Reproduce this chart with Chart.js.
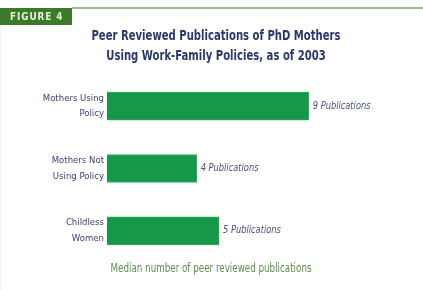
<!DOCTYPE html>
<html>
<head>
<meta charset="utf-8">
<script src="https://cdn.jsdelivr.net/npm/chart.js@4"></script>
<style>
  html, body { margin: 0; padding: 0; background: #fff; }
  #wrap { width: 423px; height: 290px; position: relative; }
</style>
</head>
<body>
<div id="wrap"><canvas id="myChart"></canvas></div>
<script>
const categories = [['Mothers Using', 'Policy'], ['Mothers Not', 'Using Policy'], ['Childless', 'Women']];
const publications = [9, 4, 5];
const valueLabels = ['9 Publications', '4 Publications', '5 Publications'];
const titleLines = ['Peer Reviewed Publications of PhD Mothers', 'Using Work-Family Policies, as of 2003'];
const footerText = 'Median number of peer reviewed publications';

const narrow = "'Liberation Sans Narrow', 'DejaVu Sans Condensed', 'Roboto', sans-serif";

// the original uses a condensed face, so squeeze text horizontally
function squeezed(c, text, x, y, sx) {
    c.save();
    c.translate(x, y);
    c.scale(sx, 1);
    c.fillText(text, 0, 0);
    c.restore();
}

// header line, figure badge, title, footer and value labels
const decor = {
    id: 'decor',
    beforeDraw(chart) {
        const c = chart.ctx;
        c.save();
        c.fillStyle = '#9dbb94';
        c.fillRect(72, 7, chart.width - 72, 2);
        c.fillStyle = '#eef4ea';
        c.fillRect(0, 9, 1, chart.height - 9);
        c.fillStyle = '#3b7a2a';
        c.fillRect(0, 8, 72, 17);
        c.fillStyle = '#e4efd6';
        c.font = 'bold 11px ' + narrow;
        c.textBaseline = 'middle';
        c.letterSpacing = '1px';
        squeezed(c, 'FIGURE 4', 10, 17, 0.9);
        c.letterSpacing = '0px';

        c.textAlign = 'center';
        c.fillStyle = '#2a386b';
        c.font = 'bold 14px ' + narrow;
        squeezed(c, titleLines[0], 216, 36, 0.8);
        squeezed(c, titleLines[1], 216, 56, 0.8);

        c.fillStyle = '#5e8c50';
        c.font = '12px ' + narrow;
        squeezed(c, footerText, 211, 269, 0.81);
        c.restore();
    },
    afterDatasetsDraw(chart) {
        const c = chart.ctx;
        const meta = chart.getDatasetMeta(0);
        c.save();
        c.fillStyle = '#4a4f7a';
        c.font = 'italic 10px ' + narrow;
        c.textBaseline = 'middle';
        meta.data.forEach((bar, i) => {
            squeezed(c, valueLabels[i], bar.x + 4, bar.y, 0.92);
        });
        c.restore();
    }
};

new Chart(document.getElementById('myChart'), {
    type: 'bar',
    data: {
        labels: categories,
        datasets: [{
            data: publications,
            backgroundColor: '#17974a',
            borderColor: '#2fae5e',
            borderWidth: 1,
            barThickness: 28
        }]
    },
    plugins: [decor],
    options: {
        indexAxis: 'y',
        responsive: true,
        maintainAspectRatio: false,
        animation: false,
        layout: { padding: { left: 0, right: 47, top: 75, bottom: 28 } },
        plugins: {
            legend: { display: false },
            tooltip: { enabled: false }
        },
        scales: {
            x: {
                display: false,
                min: 0,
                max: 12
            },
            y: {
                grid: { display: false, drawTicks: false },
                border: { display: false },
                afterFit(scale) { scale.width = 107; },
                ticks: {
                    color: '#3d4272',
                    font: { family: narrow, size: 9.5, lineHeight: 1.65 },
                    padding: 3
                }
            }
        }
    }
});
</script>
</body>
</html>
